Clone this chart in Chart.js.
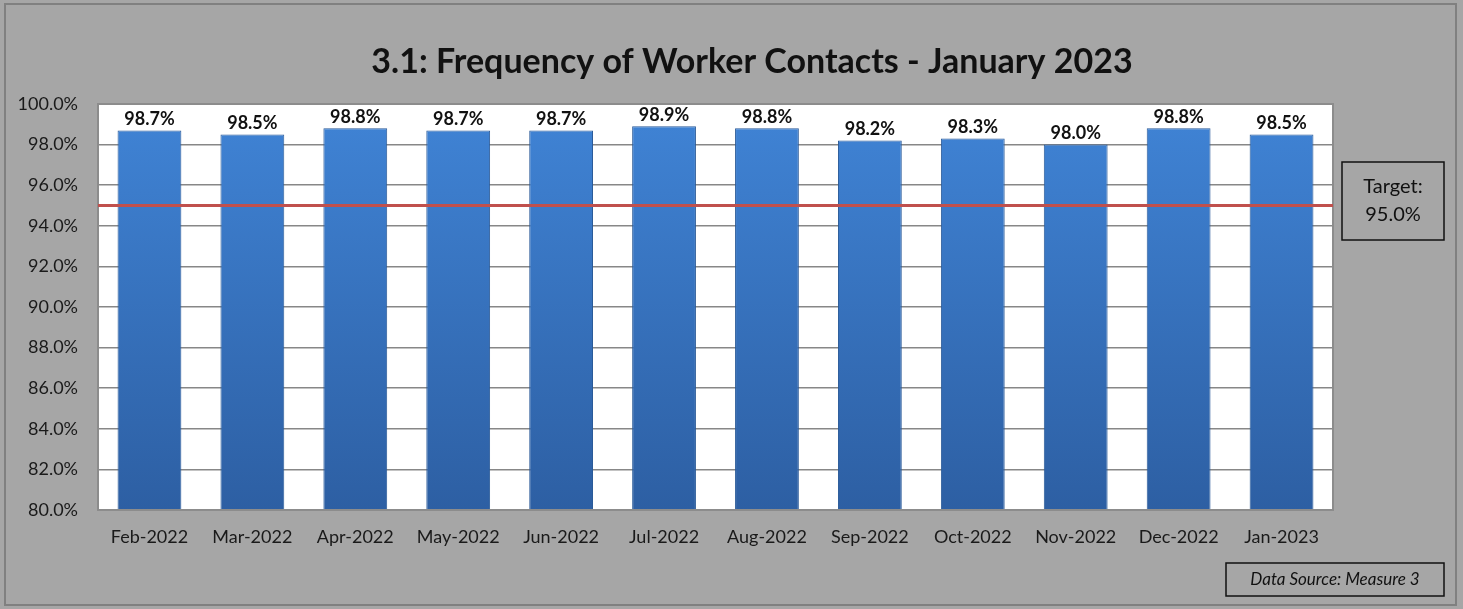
<!DOCTYPE html>
<html>
<head>
<meta charset="utf-8">
<script src="https://cdn.jsdelivr.net/npm/chart.js@4"></script>
<style>
  html, body { margin: 0; padding: 0; background: #a6a6a6; }
  #wrap { width: 1463px; height: 609px; position: relative; }
</style>
</head>
<body>
<div id="wrap"><canvas id="barChart"></canvas></div>
<script>
const months = ["Feb-2022", "Mar-2022", "Apr-2022", "May-2022", "Jun-2022", "Jul-2022",
  "Aug-2022", "Sep-2022", "Oct-2022", "Nov-2022", "Dec-2022", "Jan-2023"];
const contactRates = [98.7, 98.5, 98.8, 98.7, 98.7, 98.9, 98.8, 98.2, 98.3, 98.0, 98.8, 98.5];
const targetRate = 95.0;
const titleText = "3.1: Frequency of Worker Contacts - January 2023";
const sourceText = "Data Source: Measure 3";
const FONT = "Lato, 'Open Sans', sans-serif";

// page background, plot area, frame, title, target line, labels and boxes
const decorations = {
  id: 'decorations',
  beforeDraw(chart) {
    const c = chart.ctx, a = chart.chartArea;
    c.save();
    c.fillStyle = '#a6a6a6';
    c.fillRect(0, 0, chart.width, chart.height);
    c.strokeStyle = '#808080';
    c.lineWidth = 2;
    c.strokeRect(5, 4, 1451, 601);
    c.fillStyle = '#ffffff';
    c.fillRect(a.left, a.top, a.right - a.left, a.bottom - a.top);
    c.restore();
  },
  afterDatasetsDraw(chart) {
    const c = chart.ctx, a = chart.chartArea;
    const y = chart.scales.y;
    c.save();
    // plot area border
    c.strokeStyle = '#8c8c8c';
    c.lineWidth = 2;
    c.strokeRect(a.left, a.top, a.right - a.left, a.bottom - a.top);
    // target line
    const ty = y.getPixelForValue(targetRate);
    c.strokeStyle = '#c0504d';
    c.lineWidth = 3;
    c.beginPath();
    c.moveTo(a.left, ty);
    c.lineTo(a.right, ty);
    c.stroke();
    // value labels
    c.fillStyle = '#111';
    c.font = 'bold 18px ' + FONT;
    c.textAlign = 'center';
    c.textBaseline = 'bottom';
    chart.getDatasetMeta(0).data.forEach((bar, i) => {
      c.fillText(contactRates[i].toFixed(1) + '%', bar.x, bar.y - 2);
    });
    // title
    c.font = 'bold 34px ' + FONT;
    c.textBaseline = 'middle';
    c.fillText(titleText, 752, 62);
    // target box
    c.strokeStyle = '#111';
    c.lineWidth = 1.5;
    c.strokeRect(1342, 162, 102, 78);
    c.font = '20px ' + FONT;
    c.fillStyle = '#111';
    c.fillText('Target:', 1393, 187);
    c.fillText(targetRate.toFixed(1) + '%', 1393, 215);
    // data source box
    c.lineWidth = 1.5;
    c.strokeRect(1226, 563, 218, 33);
    c.font = 'italic 17px ' + FONT;
    c.fillText(sourceText, 1335, 580);
    c.restore();
  }
};

const ch = document.getElementById('barChart');
const ctx = ch.getContext('2d');

new Chart(ch, {
  type: 'bar',
  data: {
    labels: months,
    datasets: [{
      data: contactRates,
      backgroundColor: function(context) {
        const area = context.chart.chartArea;
        if (!area) return '#3b7bc8';
        const g = ctx.createLinearGradient(0, area.top, 0, area.bottom);
        g.addColorStop(0, '#4084d6');
        g.addColorStop(1, '#2d5fa3');
        return g;
      },
      borderColor: '#2a5a98',
      borderWidth: 1,
      categoryPercentage: 1.0,
      barPercentage: 0.62
    }]
  },
  options: {
    responsive: true,
    maintainAspectRatio: false,
    animation: false,
    layout: { padding: { left: 0, top: 104, right: 130, bottom: 0 } },
    plugins: {
      legend: { display: false },
      title: { display: false },
      tooltip: { enabled: false }
    },
    scales: {
      y: {
        min: 80,
        max: 100,
        ticks: {
          stepSize: 2,
          color: '#1a1a1a',
          font: { family: FONT, size: 18 },
          padding: 20,
          callback: v => v.toFixed(1) + '%'
        },
        grid: { color: '#878787', lineWidth: 1.5, drawTicks: false },
        border: { display: false },
        afterFit(scale) { scale.width = 98; }
      },
      x: {
        ticks: {
          color: '#1a1a1a',
          font: { family: FONT, size: 18 },
          padding: 16
        },
        grid: { display: false, drawTicks: false },
        border: { display: false },
        afterFit(scale) { scale.height = 99; }
      }
    }
  },
  plugins: [decorations]
});
</script>
</body>
</html>
